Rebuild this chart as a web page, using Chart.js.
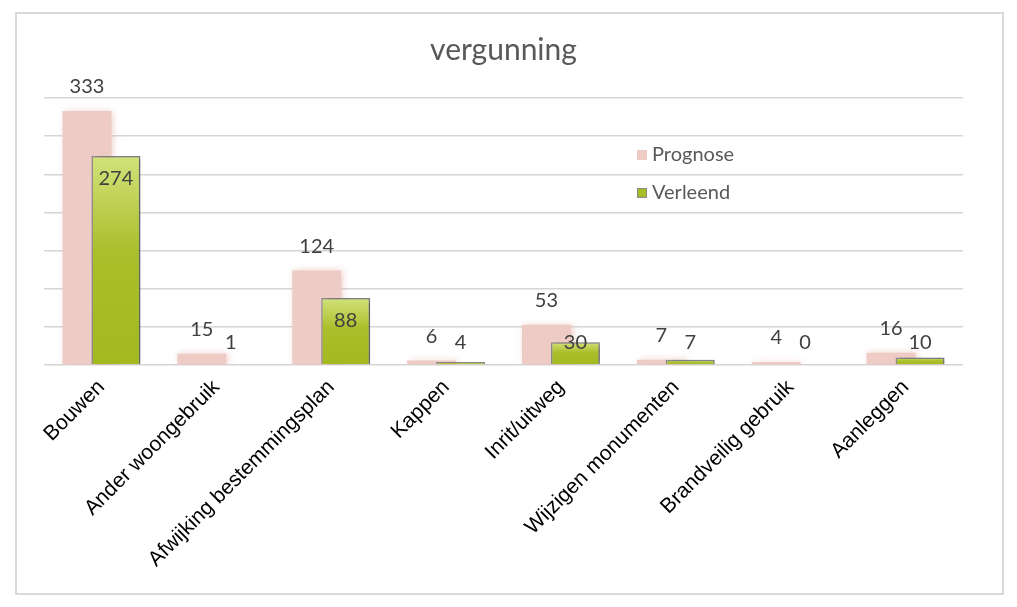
<!DOCTYPE html>
<html>
<head>
<meta charset="utf-8">
<script src="https://cdn.jsdelivr.net/npm/chart.js@4/dist/chart.umd.min.js"></script>
<style>
  html, body { margin: 0; padding: 0; background: #fff; }
  #wrap { position: absolute; left: 0; top: 0; width: 1017px; height: 607px; }
</style>
</head>
<body>
<div id="wrap"><canvas id="vergunningChart"></canvas></div>
<script>
// data
var categories = ['Bouwen', 'Ander woongebruik', 'Afwijking bestemmingsplan', 'Kappen',
                  'Inrit/uitweg', 'Wijzigen monumenten', 'Brandveilig gebruik', 'Aanleggen'];
var prognose = [333, 15, 124, 6, 53, 7, 4, 16];
var verleend = [274, 1, 88, 4, 30, 7, 0, 10];
var yTicks = [0, 50, 100, 150, 200, 250, 300, 350];

var pink = '#eecbc4';
var green = '#a8bc26';

function greenFill(c) {
  var chart = c.chart, y = chart.scales.y;
  if (!y || typeof c.raw !== 'number') return green;
  var top = y.getPixelForValue(c.raw), bot = y.getPixelForValue(0);
  if (!isFinite(top) || !isFinite(bot) || bot - top < 2) return green;
  var g = chart.ctx.createLinearGradient(0, top, 0, bot);
  g.addColorStop(0, '#d2e27a');
  g.addColorStop(0.45, '#abbf2c');
  g.addColorStop(1, '#a4b820');
  return g;
}

// frame, shadows, draw order, labels and legend
var decor = {
  id: 'decor',
  beforeDraw: function (chart) {
    var ctx = chart.ctx;
    ctx.save();
    ctx.strokeStyle = '#d9d9d9';
    ctx.lineWidth = 2;
    ctx.strokeRect(16, 13, 987, 581);
    ctx.restore();
  },
  beforeDatasetDraw: function (chart, args) {
    if (args.index === 1) return false;
    var ctx = chart.ctx;
    ctx.shadowColor = 'rgba(225,170,160,0.6)';
    ctx.shadowBlur = 7;
    ctx.shadowOffsetX = 2;
    ctx.shadowOffsetY = 0;
  },
  afterDatasetDraw: function (chart) {
    var ctx = chart.ctx;
    ctx.shadowColor = 'rgba(0,0,0,0)';
    ctx.shadowBlur = 0;
    ctx.shadowOffsetX = 0;
  },
  afterDatasetsDraw: function (chart) {
    var ctx = chart.ctx;
    var a = chart.chartArea;
    // Verleend on top of Prognose
    ctx.save();
    ctx.beginPath();
    ctx.rect(a.left - 10, a.top - 10, a.right - a.left + 20, a.bottom - a.top + 10);
    ctx.clip();
    ctx.shadowColor = 'rgba(0,0,0,0.35)';
    ctx.shadowBlur = 6;
    ctx.shadowOffsetX = 4;
    ctx.shadowOffsetY = 1;
    chart.getDatasetMeta(1).controller.draw();
    ctx.restore();

    ctx.save();
    ctx.font = '20px Lato';
    ctx.fillStyle = '#404040';
    ctx.textAlign = 'center';
    ctx.textBaseline = 'middle';
    chart.getDatasetMeta(0).data.forEach(function (el, i) {
      ctx.fillText(prognose[i], el.x, Math.min(el.y - 24, a.bottom - 24));
    });
    chart.getDatasetMeta(1).data.forEach(function (el, i) {
      ctx.fillText(verleend[i], el.x, Math.min(el.y + 23, a.bottom - 23));
    });

    // legend
    var items = [{ t: 'Prognose', c: pink, b: null }, { t: 'Verleend', c: green, b: '#8a8a8a' }];
    ctx.textAlign = 'left';
    items.forEach(function (it, k) {
      var yy = 155 + k * 38;
      ctx.fillStyle = it.c;
      ctx.fillRect(637, yy - 5, 10, 10);
      if (it.b) { ctx.strokeStyle = it.b; ctx.lineWidth = 1; ctx.strokeRect(637.5, yy - 4.5, 9, 9); }
      ctx.fillStyle = '#595959';
      ctx.fillText(it.t, 652, yy);
    });
    ctx.restore();
  }
};

new Chart(document.getElementById('vergunningChart'), {
  type: 'bar',
  data: {
    labels: categories,
    datasets: [{
      label: 'Prognose',
      data: prognose,
      backgroundColor: pink,
      borderWidth: 0,
      categoryPercentage: 0.504,
      barPercentage: 1.69
    }, {
      label: 'Verleend',
      data: verleend,
      backgroundColor: greenFill,
      borderColor: '#8c8c8c',
      borderWidth: 1.5,
      categoryPercentage: 0.504,
      barPercentage: 1.69
    }]
  },
  options: {
    responsive: true,
    maintainAspectRatio: false,
    animation: false,
    layout: { padding: { left: 44, right: 54, top: 0, bottom: 33 } },
    plugins: {
      legend: { display: false },
      tooltip: { enabled: false },
      title: {
        display: true,
        text: 'vergunning',
        color: '#595959',
        font: { family: 'Lato', size: 30, weight: 'normal' },
        padding: { top: 32, bottom: 30 }
      }
    },
    scales: {
      x: {
        grid: { display: false },
        border: { display: false },
        ticks: {
          color: '#000',
          font: { family: 'Liberation Sans', size: 21 },
          minRotation: 45,
          maxRotation: 45,
          autoSkip: false,
          padding: 2
        }
      },
      y: {
        min: 0,
        max: 350,
        afterBuildTicks: function (s) { s.ticks = yTicks.map(function (v) { return { value: v }; }); },
        grid: { color: '#d6d6d6', lineWidth: 1.5, drawTicks: false },
        border: { display: false },
        ticks: { display: false }
      }
    }
  },
  plugins: [decor]
});
</script>
</body>
</html>
